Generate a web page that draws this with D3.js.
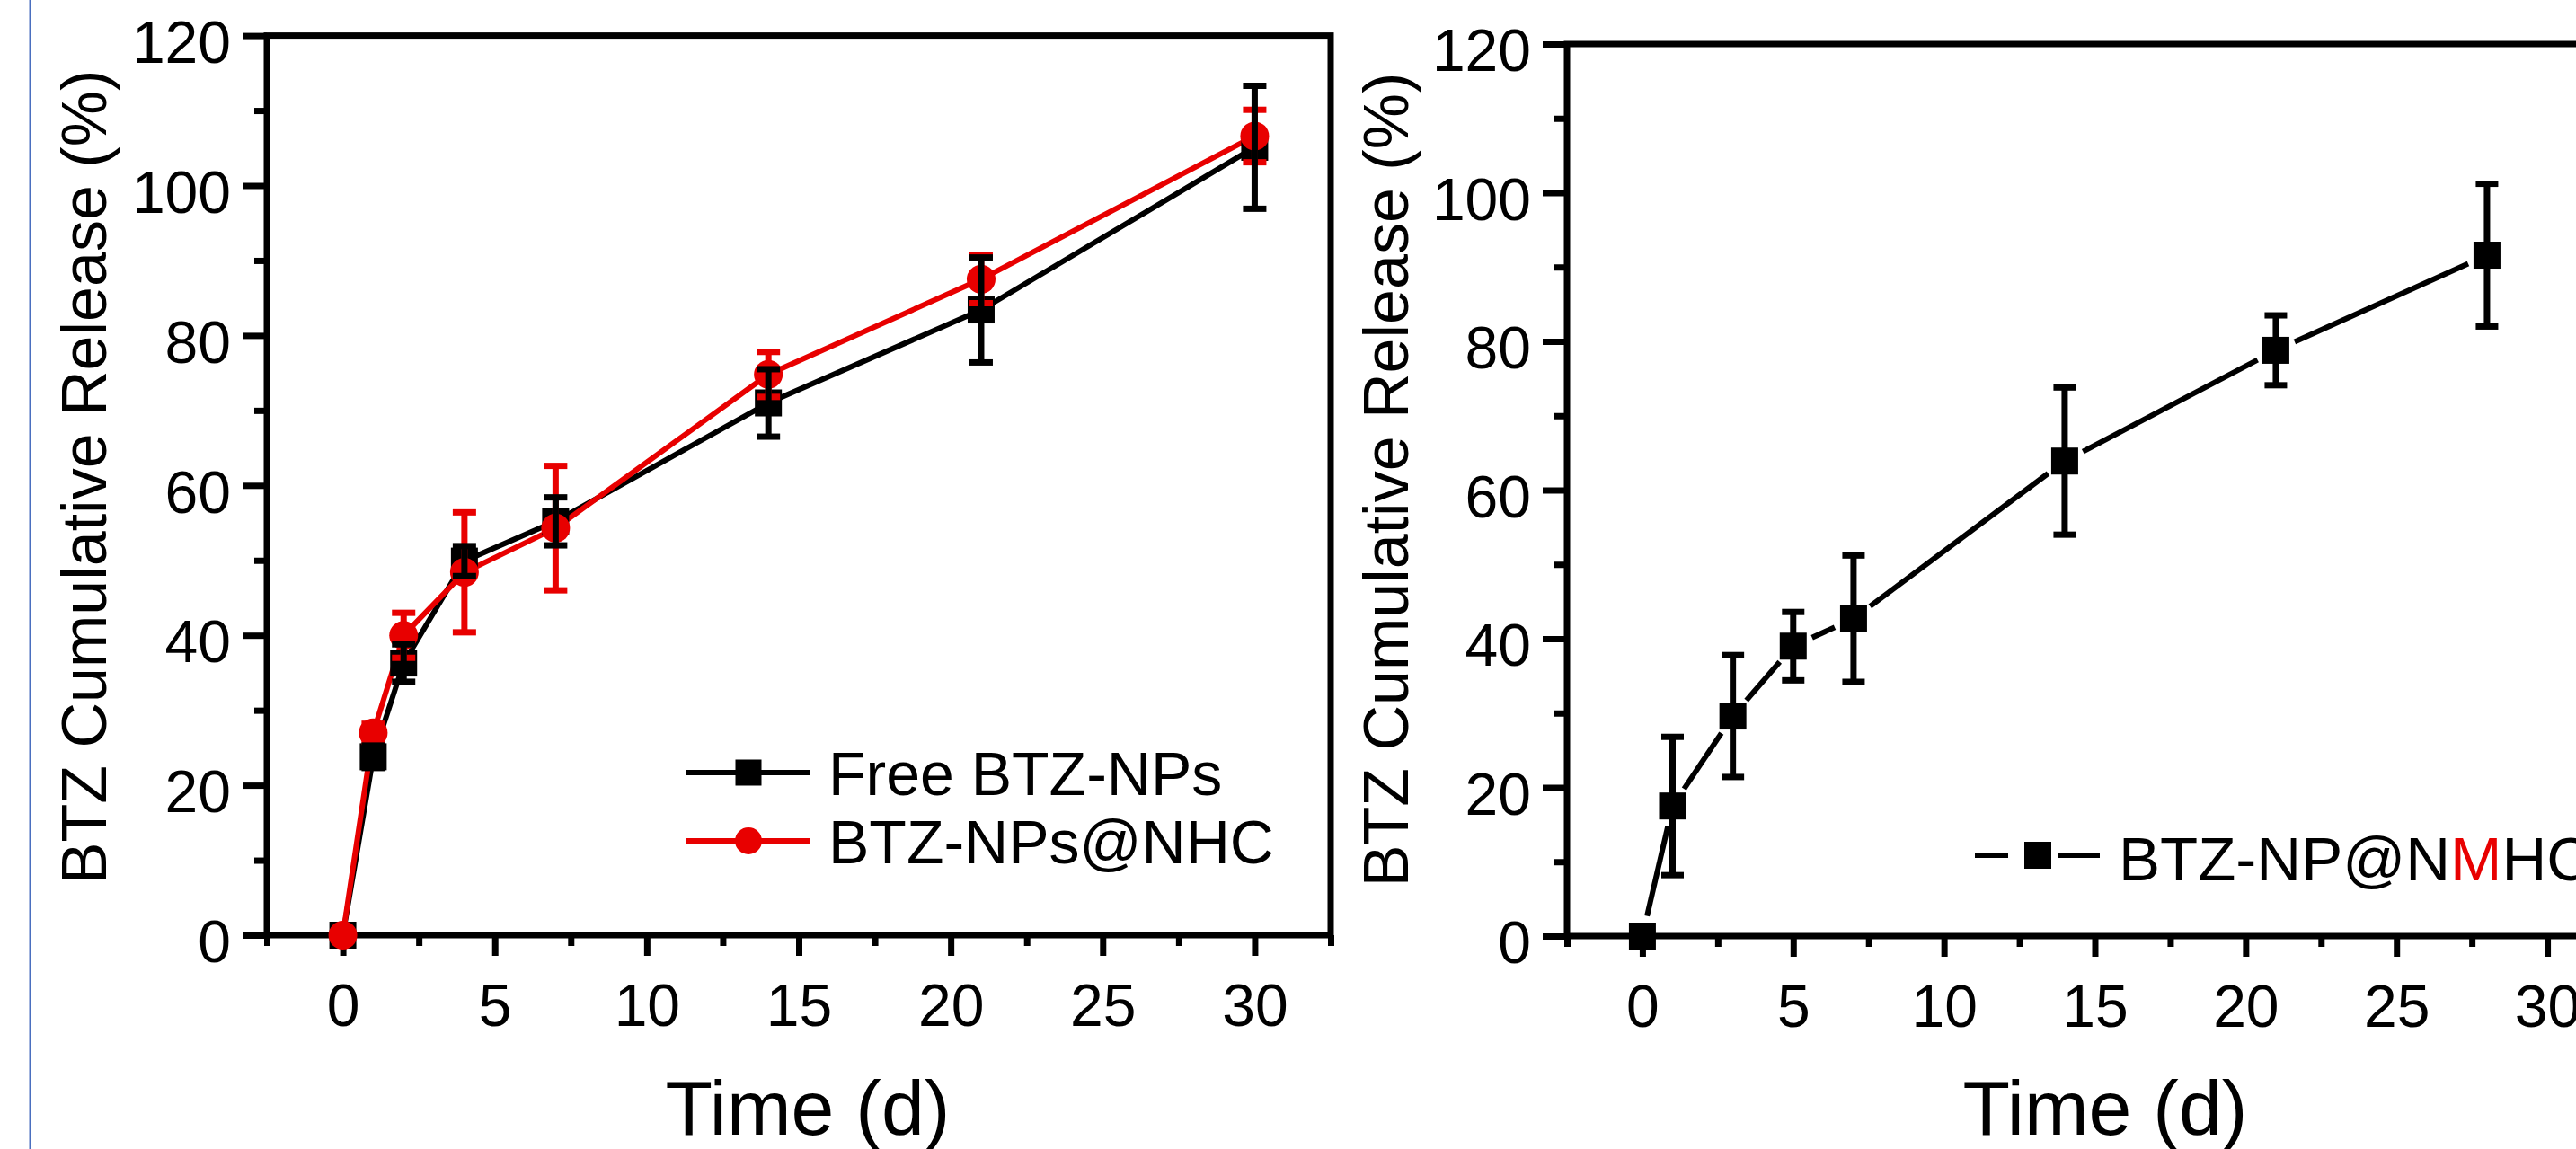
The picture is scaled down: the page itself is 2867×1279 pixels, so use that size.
<!DOCTYPE html>
<html>
<head>
<meta charset="utf-8">
<script src="https://cdn.jsdelivr.net/npm/d3@7"></script>
<style>
  html, body { margin: 0; padding: 0; background: #ffffff; }
  svg { display: block; }
</style>
</head>
<body>
<script>
// ---------- data ----------
const timesA    = [0, 1, 2, 4, 7, 14, 21, 30];
const freeMean  = [0, 23.8, 36.3, 49.9, 55.2, 71.0, 83.4, 105.1];
const freeErr   = [0, 1.5, 2.5, 2.0, 3.2, 4.5, 7.0, 8.2];
const nhcMean   = [0, 27.0, 40.0, 48.4, 54.3, 74.8, 87.5, 106.6];
const nhcErr    = [0, 1.2, 3.0, 8.0, 8.3, 3.0, 3.2, 3.5];

const timesB    = [0, 1, 3, 5, 7, 14, 21, 28];
const nmhcMean  = [0, 17.5, 29.6, 39.0, 42.7, 63.9, 78.8, 91.6];
const nmhcErr   = [0, 9.3, 8.2, 4.6, 8.5, 9.9, 4.7, 9.6];

const xTicks    = [0, 5, 10, 15, 20, 25, 30];
const xMinor    = [-2.5, 2.5, 7.5, 12.5, 17.5, 22.5, 27.5, 32.5];
const yTicks    = [0, 20, 40, 60, 80, 100, 120];
const yMinor    = [10, 30, 50, 70, 90, 110];
const xDomain   = [-2.5, 32.5];
const yDomain   = [0, 120];

const yTitle = "BTZ Cumulative Release (%)";
const xTitle = "Time (d)";
const legendA = ["Free BTZ-NPs", "BTZ-NPs@NHC"];

// ---------- styles ----------
const FONT = "'Liberation Sans', Arial, Helvetica, sans-serif";
const RED = "#e80000";
const BLACK = "#000000";

const W = 2867, H = 1279;
const svg = d3.select("body").append("svg").attr("width", W).attr("height", H);
svg.append("rect").attr("width", W).attr("height", H).attr("fill", "#fff");

// thin blue frame line at the left edge
svg.append("line").attr("x1", 33.5).attr("x2", 33.5).attr("y1", 0).attr("y2", H)
  .attr("stroke", "#4a6fbf").attr("stroke-width", 2);

function drawPanel(p) {
  const g = svg.append("g");
  const x = d3.scaleLinear().domain(xDomain).range([p.left, p.right]);
  const y = d3.scaleLinear().domain(yDomain).range([p.bottom, p.top]);

  const ax = g.append("g").attr("transform", `translate(0,${p.bottom})`)
    .call(d3.axisBottom(x).tickValues(xTicks).tickSize(23).tickPadding(31).tickSizeOuter(0));
  const axm = g.append("g").attr("transform", `translate(0,${p.bottom})`)
    .call(d3.axisBottom(x).tickValues(xMinor).tickSize(12).tickFormat("").tickSizeOuter(0));
  const ay = g.append("g").attr("transform", `translate(${p.left},0)`)
    .call(d3.axisLeft(y).tickValues(yTicks).tickSize(27).tickPadding(13).tickSizeOuter(0));
  const aym = g.append("g").attr("transform", `translate(${p.left},0)`)
    .call(d3.axisLeft(y).tickValues(yMinor).tickSize(14).tickFormat("").tickSizeOuter(0));

  [ax, axm, ay, aym].forEach(a => {
    a.select(".domain").remove();
    a.selectAll(".tick line").attr("stroke", BLACK).attr("stroke-width", 7);
    a.selectAll(".tick text").attr("fill", BLACK)
      .style("font-family", FONT).style("font-size", "66px");
  });
  ay.selectAll(".tick text").attr("dy", "0.45em");

  g.append("rect").attr("x", p.left).attr("y", p.top)
    .attr("width", p.right - p.left).attr("height", p.bottom - p.top)
    .attr("fill", "none").attr("stroke", BLACK).attr("stroke-width", 7);

  g.append("text").attr("transform", `translate(${p.yTitleX},${p.yTitleY}) rotate(-90)`)
    .attr("text-anchor", "middle").style("font-family", FONT).style("font-size", "70px")
    .text(yTitle);
  g.append("text").attr("x", p.xTitleX).attr("y", 1263)
    .attr("text-anchor", "middle").style("font-family", FONT).style("font-size", "86px")
    .text(xTitle);

  return { g, x, y };
}

function errorBars(g, x, y, times, mean, err, color, cap) {
  const d = times.map((t, i) => ({ t, m: mean[i], e: err[i] })).filter(d => d.e > 0);
  const eg = g.append("g").attr("stroke", color).attr("stroke-width", 7);
  eg.selectAll(".v").data(d).enter().append("line")
    .attr("x1", d => x(d.t)).attr("x2", d => x(d.t))
    .attr("y1", d => y(d.m - d.e)).attr("y2", d => y(d.m + d.e));
  eg.selectAll(".t").data(d).enter().append("line")
    .attr("x1", d => x(d.t) - cap / 2).attr("x2", d => x(d.t) + cap / 2)
    .attr("y1", d => y(d.m + d.e)).attr("y2", d => y(d.m + d.e));
  eg.selectAll(".b").data(d).enter().append("line")
    .attr("x1", d => x(d.t) - cap / 2).attr("x2", d => x(d.t) + cap / 2)
    .attr("y1", d => y(d.m - d.e)).attr("y2", d => y(d.m - d.e));
}

// ---------- panel A ----------
const A = drawPanel({ left: 297, right: 1481, top: 39.6, bottom: 1041,
                      yTitleX: 118, yTitleY: 531, xTitleX: 899 });
{
  const { g, x, y } = A;
  const line = d3.line().x(d => x(d[0])).y(d => y(d[1]));
  const freePts = timesA.map((t, i) => [t, freeMean[i]]);
  const nhcPts = timesA.map((t, i) => [t, nhcMean[i]]);
  g.append("path").attr("d", line(freePts)).attr("fill", "none")
    .attr("stroke", BLACK).attr("stroke-width", 6).attr("stroke-linejoin", "round");
  g.append("path").attr("d", line(nhcPts)).attr("fill", "none")
    .attr("stroke", RED).attr("stroke-width", 6).attr("stroke-linejoin", "round");
  const S = 30;
  g.selectAll(".sq").data(freePts).enter().append("rect")
    .attr("x", d => x(d[0]) - S / 2).attr("y", d => y(d[1]) - S / 2)
    .attr("width", S).attr("height", S).attr("fill", BLACK);
  g.selectAll(".ci").data(nhcPts).enter().append("circle")
    .attr("cx", d => x(d[0])).attr("cy", d => y(d[1])).attr("r", 16).attr("fill", RED);
  errorBars(g, x, y, timesA, nhcMean, nhcErr, RED, 26);
  errorBars(g, x, y, timesA, freeMean, freeErr, BLACK, 26);

  const lg = g.append("g");
  const rows = [{ y: 860, color: BLACK, shape: "sq", label: legendA[0] },
                { y: 936, color: RED, shape: "ci", label: legendA[1] }];
  rows.forEach(r => {
    lg.append("line").attr("x1", 764).attr("x2", 901).attr("y1", r.y).attr("y2", r.y)
      .attr("stroke", r.color).attr("stroke-width", 6);
    if (r.shape === "sq") {
      lg.append("rect").attr("x", 833 - 14.5).attr("y", r.y - 14.5).attr("width", 29).attr("height", 29)
        .attr("fill", r.color);
    } else {
      lg.append("circle").attr("cx", 833).attr("cy", r.y).attr("r", 15).attr("fill", r.color);
    }
    lg.append("text").attr("x", 922).attr("y", r.y + 25)
      .style("font-family", FONT).style("font-size", "68px").text(r.label);
  });
}

// ---------- panel B ----------
const B = drawPanel({ left: 1744, right: 2919, top: 49, bottom: 1042,
                      yTitleX: 1567, yTitleY: 534, xTitleX: 2343 });
{
  const { g, x, y } = B;
  const pts = timesB.map((t, i) => [t, nmhcMean[i]]);
  const gap = 23;
  const segs = [];
  for (let i = 0; i < pts.length - 1; i++) {
    const x1 = x(pts[i][0]), y1 = y(pts[i][1]);
    const x2 = x(pts[i + 1][0]), y2 = y(pts[i + 1][1]);
    const L = Math.hypot(x2 - x1, y2 - y1);
    const ux = (x2 - x1) / L, uy = (y2 - y1) / L;
    segs.push([x1 + ux * gap, y1 + uy * gap, x2 - ux * gap, y2 - uy * gap]);
  }
  g.selectAll(".seg").data(segs).enter().append("line")
    .attr("x1", d => d[0]).attr("y1", d => d[1]).attr("x2", d => d[2]).attr("y2", d => d[3])
    .attr("stroke", BLACK).attr("stroke-width", 6);
  const S = 30;
  g.selectAll(".sq").data(pts).enter().append("rect")
    .attr("x", d => x(d[0]) - S / 2).attr("y", d => y(d[1]) - S / 2)
    .attr("width", S).attr("height", S).attr("fill", BLACK);
  errorBars(g, x, y, timesB, nmhcMean, nmhcErr, BLACK, 25);

  const ly = 952;
  g.append("line").attr("x1", 2198).attr("x2", 2235).attr("y1", ly).attr("y2", ly)
    .attr("stroke", BLACK).attr("stroke-width", 6);
  g.append("line").attr("x1", 2290).attr("x2", 2337).attr("y1", ly).attr("y2", ly)
    .attr("stroke", BLACK).attr("stroke-width", 6);
  g.append("rect").attr("x", 2268 - 15).attr("y", ly - 15).attr("width", 30).attr("height", 30)
    .attr("fill", BLACK);
  const t = g.append("text").attr("x", 2358).attr("y", 980)
    .style("font-family", FONT).style("font-size", "69px");
  t.append("tspan").text("BTZ-NP@N");
  t.append("tspan").attr("fill", RED).text("M");
  t.append("tspan").text("HC");
}
</script>
</body>
</html>
